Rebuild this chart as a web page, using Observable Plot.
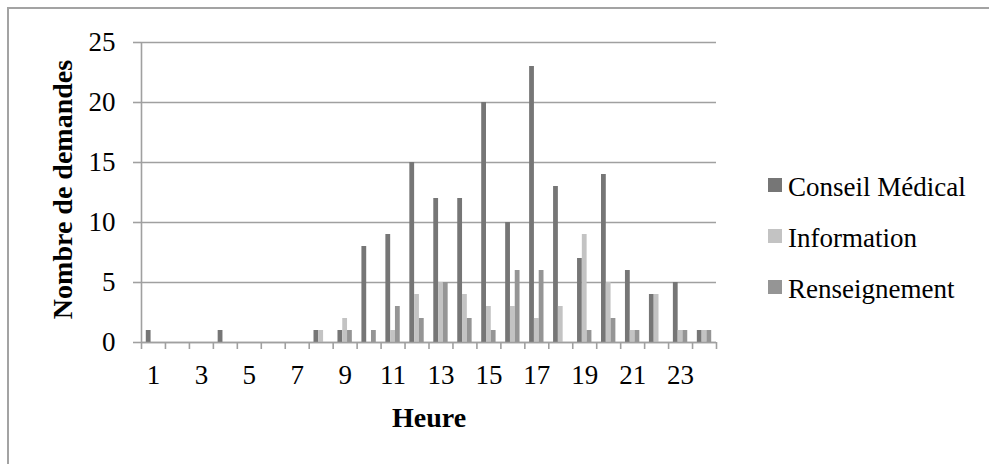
<!DOCTYPE html>
<html>
<head>
<meta charset="utf-8">
<script src="https://cdn.jsdelivr.net/npm/d3@7"></script>
<script src="https://cdn.jsdelivr.net/npm/@observablehq/plot@0.6"></script>
<style>
  html, body { margin: 0; padding: 0; background: #fff; }
  #wrap { position: relative; width: 989px; height: 464px; overflow: hidden; font-family: "Liberation Serif", serif; }
  #border { position: absolute; left: 7px; top: 7px; width: 1000px; height: 1000px; border-left: 2px solid #a3a3a3; border-top: 2px solid #a3a3a3; }
  #chart { position: absolute; left: 0; top: 0; }
  #legend { position: absolute; left: 768px; top: 172px; }
  .item { position: relative; height: 51px; }
  .sw { position: absolute; left: 0; top: 6px; width: 14px; height: 14px; }
  .lab { position: absolute; left: 20px; top: 0; font-size: 27px; line-height: 30px; color: #000; white-space: nowrap; }
</style>
</head>
<body>
<div id="wrap">
  <div id="border"></div>
  <div id="chart"></div>
  <div id="legend"></div>
</div>
<script>
const hours = [1,2,3,4,5,6,7,8,9,10,11,12,13,14,15,16,17,18,19,20,21,22,23,24];
const seriesNames = ["Conseil Médical", "Information", "Renseignement"];
const conseil       = [1,0,0,1,0,0,0,1,1,8,9,15,12,12,20,10,23,13,7,14,6,4,5,1];
const information   = [0,0,0,0,0,0,0,1,2,0,1,4,5,4,3,3,2,3,9,5,1,4,1,1];
const renseignement = [0,0,0,0,0,0,0,0,1,1,3,2,5,2,1,6,6,0,1,2,1,0,1,1];
const yTicks = [0,5,10,15,20,25];
const xLabels = [1,3,5,7,9,11,13,15,17,19,21,23];
const colors = ["#767676", "#c3c3c3", "#959595"];

const seriesValues = [conseil, information, renseignement];
const data = [];
hours.forEach((h, i) => {
  seriesNames.forEach((s, k) => {
    data.push({hour: h, series: s, idx: k, value: seriesValues[k][i]});
  });
});
const boundaries = hours.map(h => h - 0.5).concat([hours[hours.length - 1] + 0.5]);
const barW = 0.2;

const font = "Liberation Serif, serif";
const chart = Plot.plot({
  width: 989,
  height: 464,
  marginLeft: 141,
  marginRight: 273,
  marginTop: 42,
  marginBottom: 122,
  style: {fontFamily: font, background: "transparent", overflow: "visible"},
  x: {type: "linear", domain: [0.5, 24.5], axis: null},
  y: {domain: [0, 25], axis: null},
  color: {domain: seriesNames, range: colors},
  marks: [
    Plot.gridY(yTicks, {stroke: "#a0a0a0", strokeOpacity: 1, strokeWidth: 1.6}),
    Plot.axisY(yTicks, {tickSize: 8, tickPadding: 18, fontSize: 27, stroke: "#a0a0a0", strokeWidth: 1.6, fill: "#000", label: null}),
    Plot.rectY(data, {
      x1: d => d.hour - 1.5 * barW + d.idx * barW,
      x2: d => d.hour - 0.5 * barW + d.idx * barW,
      y: "value",
      fill: "series",
      insetLeft: 0, insetRight: 0
    }),
    Plot.ruleX([0.5], {stroke: "#a0a0a0", strokeWidth: 1.6}),
    Plot.ruleY([0], {stroke: "#a0a0a0", strokeWidth: 1.6}),
    Plot.axisX(boundaries, {tickSize: 7, tickFormat: () => "", stroke: "#a0a0a0", strokeWidth: 1.6, label: null}),
    Plot.axisX(xLabels, {tickSize: 0, tickPadding: 22, fontSize: 27, fill: "#000", label: null}),
    Plot.text(["Nombre de demandes"], {frameAnchor: "left", textAnchor: "middle", rotate: -90, dx: -78, dy: -3, fontSize: 28, fontWeight: "bold", fill: "#000", fontFamily: font}),
    Plot.text(["Heure"], {frameAnchor: "bottom", dy: 84, fontSize: 28, fontWeight: "bold", fill: "#000", fontFamily: font})
  ]
});
document.getElementById("chart").appendChild(chart);

const legend = document.getElementById("legend");
seriesNames.forEach((s, k) => {
  const it = document.createElement("div");
  it.className = "item";
  const sw = document.createElement("div");
  sw.className = "sw";
  sw.style.background = colors[k];
  const lab = document.createElement("div");
  lab.className = "lab";
  lab.textContent = s;
  it.appendChild(sw);
  it.appendChild(lab);
  legend.appendChild(it);
});
</script>
</body>
</html>
